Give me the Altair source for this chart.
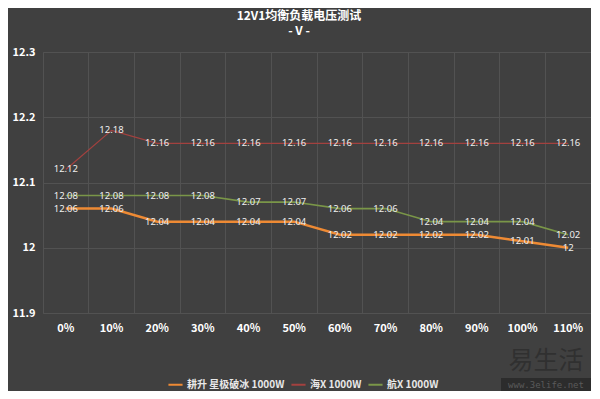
import altair as alt
import pandas as pd

loads = ["0%", "10%", "20%", "30%", "40%", "50%", "60%", "70%", "80%", "90%", "100%", "110%"]
series_names = ["耕升 星极破冰 1000W", "海X 1000W", "航X 1000W"]
gengsheng = [12.06, 12.06, 12.04, 12.04, 12.04, 12.04, 12.02, 12.02, 12.02, 12.02, 12.01, 12.00]
hai_x = [12.12, 12.18, 12.16, 12.16, 12.16, 12.16, 12.16, 12.16, 12.16, 12.16, 12.16, 12.16]
hang_x = [12.08, 12.08, 12.08, 12.08, 12.07, 12.07, 12.06, 12.06, 12.04, 12.04, 12.04, 12.02]
y_ticks = [11.9, 12.0, 12.1, 12.2, 12.3]
colors = ["#EE8A34", "#A3413F", "#7A9648"]
widths = [2.5, 1.2, 1.6]

rows = []
for name, vals, w in zip(series_names, [gengsheng, hai_x, hang_x], widths):
    for i, (ld, v) in enumerate(zip(loads, vals)):
        rows.append({"load": ld, "series": name, "v": v, "w": w})
df = pd.DataFrame(rows)

BG = "#404040"
GRID = "#525252"
W, H = 548, 261

x_enc = alt.X("load:O", sort=loads,
              scale=alt.Scale(type="band", paddingInner=0, paddingOuter=0),
              axis=alt.Axis(title=None, labelAngle=0, bandPosition=0, grid=True,
                            gridColor=GRID, domain=False, ticks=False,
                            labelPadding=9,
                            labelColor="#ffffff", labelFontSize=11, labelFontWeight="bold",
                            labelFont="Noto Sans CJK SC"))
y_enc = alt.Y("v:Q", scale=alt.Scale(domain=[11.9, 12.3], nice=False, zero=False),
              axis=alt.Axis(title=None, values=y_ticks, format="~g", grid=True,
                            gridColor=GRID, domain=False, ticks=False, labelPadding=8,
                            labelColor="#ffffff", labelFontSize=11, labelFontWeight="bold",
                            labelFont="Noto Sans CJK SC"))
color_enc = alt.Color("series:N", sort=series_names,
                      scale=alt.Scale(domain=series_names, range=colors),
                      legend=alt.Legend(title=None, orient="none", legendX=124, legendY=324,
                                        direction="horizontal", symbolType="stroke",
                                        symbolSize=200, symbolStrokeWidth=2,
                                        labelColor="#e8e8e8", labelFontSize=10,
                                        labelFont="Noto Sans CJK SC", labelFontWeight="bold",
                                        columnPadding=2, symbolOffset=0, labelOffset=3))

lines = alt.Chart(df).mark_line().encode(
    x=x_enc, y=y_enc, color=color_enc,
    strokeWidth=alt.StrokeWidth("w:Q", scale=None, legend=None),
    order=alt.Order("series:N"),
)
labels = alt.Chart(df).mark_text(font="Noto Sans", fontSize=9.5, color="#eeeeee").encode(
    x=alt.X("load:O", sort=loads), y="v:Q",
    text=alt.Text("v:Q", format=".4~g"),
)

wm_df = pd.DataFrame({"t": ["易生活"]})
wm = alt.Chart(wm_df).mark_text(fontSize=25, font="Noto Sans CJK SC",
                                color="#303030").encode(
    x=alt.value(503), y=alt.value(309), text="t:N")
box = alt.Chart(wm_df).mark_rect(color="#2c2c2c").encode(
    x=alt.value(458), x2=alt.value(548), y=alt.value(326), y2=alt.value(339))
wm2_df = pd.DataFrame({"t": ["www.3elife.net"]})
wm2 = alt.Chart(wm2_df).mark_text(fontSize=9, font="DejaVu Sans Mono",
                                  color="#5a5a5a").encode(
    x=alt.value(503), y=alt.value(333), text="t:N")

chart = alt.layer(lines, labels, wm, box, wm2).resolve_scale(x="shared").properties(
    width=W, height=H,
    autosize=alt.AutoSizeParams(type="none"),
    padding={"left": 35, "top": 44, "right": 0, "bottom": 78},
    background=BG,
    title=alt.TitleParams(text="12V1均衡负载电压测试", subtitle="- V -",
                          font="Noto Sans CJK SC", fontSize=12, fontWeight="bold",
                          color="#ffffff", subtitleFont="Noto Sans CJK SC",
                          subtitleFontSize=12, subtitleFontWeight="bold",
                          subtitleColor="#ffffff", subtitlePadding=3,
                          anchor="middle", dx=-18, offset=8),
).configure_view(stroke=GRID)

chart.save("out.html", embed_options={"renderer": "svg", "actions": False})
